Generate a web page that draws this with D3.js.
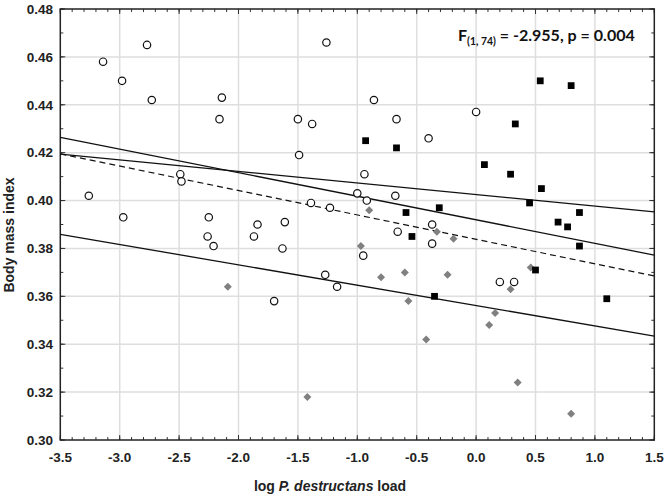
<!DOCTYPE html>
<html>
<head>
<meta charset="utf-8">
<script src="https://cdn.jsdelivr.net/npm/d3@7"></script>
<style>
  html, body { margin: 0; padding: 0; background: #fff; }
  svg { display: block; }
</style>
</head>
<body>
<svg id="chart" width="666" height="496"></svg>
<script>
// ---- Data ----
// Group 1: open circles
const circleX = [-3.14, -2.98, -2.77, -2.73, -2.14, -2.16, -1.26, -0.86, -0.67, -0.40,
  -1.50, -1.38, -1.49, 0.00, -3.26, -2.97, -2.49, -2.48, -2.25, -2.26,
  -2.21, -0.94, -1.00, -0.92, -0.68, -1.39, -1.23, -1.84, -1.87, -1.61,
  -1.63, -0.66, -0.37, -0.37, -0.95, -1.27, -1.17, -1.70, 0.20, 0.32];
const circleY = [0.458, 0.450, 0.465, 0.442, 0.443, 0.434, 0.466, 0.442, 0.434, 0.426,
  0.434, 0.432, 0.419, 0.437, 0.402, 0.393, 0.411, 0.408, 0.393, 0.385,
  0.381, 0.411, 0.403, 0.400, 0.402, 0.399, 0.397, 0.390, 0.385, 0.391,
  0.380, 0.387, 0.390, 0.382, 0.377, 0.369, 0.364, 0.358, 0.366, 0.366];
// Group 2: black squares
const squareX = [-0.93, -0.67, 0.54, 0.80, 0.33, 0.07, 0.29, 0.55, -0.31, 0.45,
  0.87, 0.69, 0.77, 0.87, 0.50, -0.35, 1.10, -0.59, -0.54];
const squareY = [0.425, 0.422, 0.450, 0.448, 0.432, 0.415, 0.411, 0.405, 0.397, 0.399,
  0.395, 0.391, 0.389, 0.381, 0.371, 0.360, 0.359, 0.395, 0.385];
// Group 3: grey diamonds
const diamondX = [-2.09, -1.42, -0.90, -0.97, -0.80, -0.60, -0.57, -0.42, -0.33, -0.19,
  -0.24, 0.46, 0.29, 0.16, 0.11, 0.35, 0.80];
const diamondY = [0.364, 0.318, 0.396, 0.381, 0.368, 0.370, 0.358, 0.342, 0.387, 0.384,
  0.369, 0.372, 0.363, 0.353, 0.348, 0.324, 0.311];
// Fitted lines (value at x = -3.5 and x = 1.5)
const lineX = [-3.5, 1.5];
const lineFlatY = [0.4194, 0.3953];
const lineSteepY = [0.4264, 0.3772];
const lineLowY = [0.3859, 0.3434];
const lineDashY = [0.4195, 0.3685];
// Ticks
const xTicks = [-3.5, -3.0, -2.5, -2.0, -1.5, -1.0, -0.5, 0.0, 0.5, 1.0, 1.5];
const xTickLabels = ["-3.5", "-3.0", "-2.5", "-2.0", "-1.5", "-1.0", "-0.5", "0.0", "0.5", "1.0", "1.5"];
const yTicks = [0.30, 0.32, 0.34, 0.36, 0.38, 0.40, 0.42, 0.44, 0.46, 0.48];
const yTickLabels = ["0.30", "0.32", "0.34", "0.36", "0.38", "0.40", "0.42", "0.44", "0.46", "0.48"];
const xMinor = d3.range(-35, 16).map(d => d / 10);
const yMinor = d3.range(30, 49).map(d => d / 100);

// ---- Layout ----
const W = 666, H = 496;
const m = { left: 60.3, right: 11.7, top: 9, bottom: 56 };
const svg = d3.select("#chart");
const x = d3.scaleLinear().domain([-3.5, 1.5]).range([m.left, W - m.right]);
const y = d3.scaleLinear().domain([0.30, 0.48]).range([H - m.bottom, m.top]);
const x0 = m.left, x1 = W - m.right, y0 = H - m.bottom, y1 = m.top;

// gridlines
const grid = svg.append("g").attr("stroke", "#dedede").attr("stroke-width", 1.5);
grid.selectAll(".gx").data(xTicks.slice(1, -1)).join("line")
  .attr("x1", d => x(d)).attr("x2", d => x(d)).attr("y1", y0).attr("y2", y1);
grid.selectAll(".gy").data(yTicks.slice(1, -1)).join("line")
  .attr("y1", d => y(d)).attr("y2", d => y(d)).attr("x1", x0).attr("x2", x1);

// minor ticks (inward) on all four sides
const tk = svg.append("g").attr("stroke", "#333").attr("stroke-width", 1);
tk.selectAll("line.xmb").data(xMinor).join("line").attr("class", "xmb")
  .attr("x1", d => x(d)).attr("x2", d => x(d)).attr("y1", y0).attr("y2", y0 - 3);
tk.selectAll("line.xmt").data(xMinor).join("line").attr("class", "xmt")
  .attr("x1", d => x(d)).attr("x2", d => x(d)).attr("y1", y1).attr("y2", y1 + 3);
tk.selectAll("line.yml").data(yMinor).join("line").attr("class", "yml")
  .attr("y1", d => y(d)).attr("y2", d => y(d)).attr("x1", x0).attr("x2", x0 + 3);
tk.selectAll("line.ymr").data(yMinor).join("line").attr("class", "ymr")
  .attr("y1", d => y(d)).attr("y2", d => y(d)).attr("x1", x1).attr("x2", x1 - 3);
// major ticks
const tk2 = svg.append("g").attr("stroke", "#333").attr("stroke-width", 1);
tk2.selectAll("line.xb").data(xTicks).join("line").attr("class", "xb")
  .attr("x1", d => x(d)).attr("x2", d => x(d)).attr("y1", y0).attr("y2", y0 - 5);
tk2.selectAll("line.xt").data(xTicks).join("line").attr("class", "xt")
  .attr("x1", d => x(d)).attr("x2", d => x(d)).attr("y1", y1).attr("y2", y1 + 5);
tk2.selectAll("line.yl").data(yTicks).join("line").attr("class", "yl")
  .attr("y1", d => y(d)).attr("y2", d => y(d)).attr("x1", x0).attr("x2", x0 + 5);
tk2.selectAll("line.yr").data(yTicks).join("line").attr("class", "yr")
  .attr("y1", d => y(d)).attr("y2", d => y(d)).attr("x1", x1).attr("x2", x1 - 5);

// frame
svg.append("rect").attr("x", x0).attr("y", y1).attr("width", x1 - x0).attr("height", y0 - y1)
  .attr("fill", "none").attr("stroke", "#222").attr("stroke-width", 1.5);

// tick labels
const tickFont = "'Liberation Sans', Arial, sans-serif";
svg.append("g").selectAll("text").data(xTicks).join("text")
  .attr("x", d => x(d)).attr("y", 462).attr("text-anchor", "middle")
  .attr("font-family", tickFont).attr("font-weight", "bold").attr("font-size", 13.5)
  .attr("fill", "#222").text((d, i) => xTickLabels[i]);
svg.append("g").selectAll("text").data(yTicks).join("text")
  .attr("x", 53).attr("y", d => y(d)).attr("dy", "0.35em").attr("text-anchor", "end")
  .attr("font-family", tickFont).attr("font-weight", "bold").attr("font-size", 13.5)
  .attr("fill", "#222").text((d, i) => yTickLabels[i]);

// axis titles
svg.append("text").attr("transform", "translate(14,235) rotate(-90)")
  .attr("text-anchor", "middle").attr("font-family", tickFont).attr("font-weight", "bold")
  .attr("font-size", 14).attr("fill", "#222").text("Body mass index");
const xt = svg.append("text").attr("x", 330).attr("y", 491).attr("text-anchor", "middle")
  .attr("font-family", tickFont).attr("font-weight", "bold").attr("font-size", 14).attr("fill", "#222");
xt.append("tspan").text("log ");
xt.append("tspan").attr("font-style", "italic").text("P. destructans");
xt.append("tspan").text(" load");

// regression lines
const line = d3.line().x(d => x(d[0])).y(d => y(d[1]));
[lineFlatY, lineSteepY, lineLowY].forEach(ys => {
  svg.append("path").attr("d", line(d3.zip(lineX, ys)))
    .attr("fill", "none").attr("stroke", "#111").attr("stroke-width", 1.3);
});
svg.append("path").attr("d", line(d3.zip(lineX, lineDashY)))
  .attr("fill", "none").attr("stroke", "#111").attr("stroke-width", 1.2)
  .attr("stroke-dasharray", "6,4");

// points
svg.append("g").selectAll("path").data(d3.zip(diamondX, diamondY)).join("path")
  .attr("d", d3.symbol(d3.symbolSquare, 32))
  .attr("transform", d => `translate(${x(d[0])},${y(d[1])}) rotate(45)`)
  .attr("fill", "#808080");
svg.append("g").selectAll("circle").data(d3.zip(circleX, circleY)).join("circle")
  .attr("cx", d => x(d[0])).attr("cy", d => y(d[1])).attr("r", 3.7)
  .attr("fill", "#fff").attr("stroke", "#111").attr("stroke-width", 1.2);
svg.append("g").selectAll("path").data(d3.zip(squareX, squareY)).join("path")
  .attr("d", d3.symbol(d3.symbolSquare, 46))
  .attr("transform", d => `translate(${x(d[0])},${y(d[1])})`)
  .attr("fill", "#000");

// statistic annotation
const ft = svg.append("text").attr("x", 458).attr("y", 41)
  .attr("font-family", "Lato, 'Open Sans', sans-serif").attr("font-weight", "bold")
  .attr("font-size", 17).attr("fill", "#111");
ft.append("tspan").text("F");
ft.append("tspan").attr("font-size", 11).attr("dy", 4).text("(1, 74)");
ft.append("tspan").attr("dy", -4).text(" = -2.955, p = 0.004");
const len = ft.node().getComputedTextLength();
if (len > 0) {
  const s = 177 / len;
  ft.attr("font-size", 17 * s);
  ft.select("tspan:nth-child(2)").attr("font-size", 11 * s);
}
</script>
</body>
</html>
